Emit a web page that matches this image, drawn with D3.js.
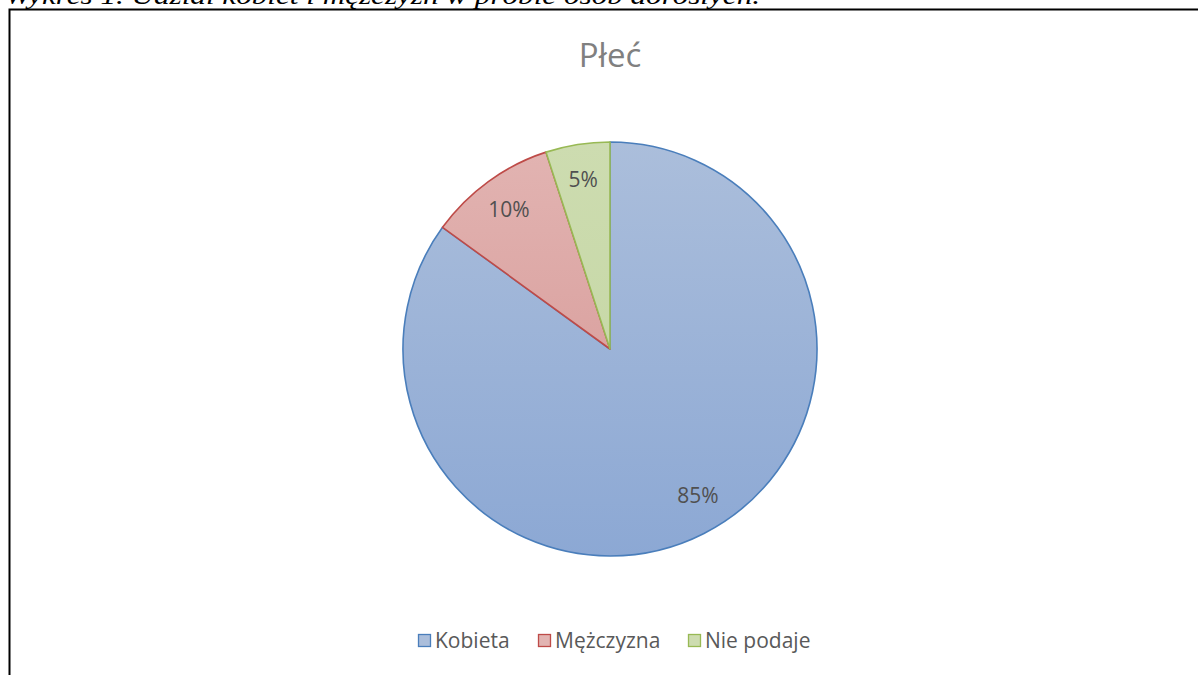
<!DOCTYPE html>
<html><head><meta charset="utf-8">
<script src="https://cdn.jsdelivr.net/npm/d3@7"></script>
<style>body{margin:0;background:#fff;}svg{display:block;}</style>
</head><body>
<svg id="c" width="1198" height="675"></svg>
<script>
const categories = ["Kobieta", "Mężczyzna", "Nie podaje"];
const values = [85, 10, 5];
const labels = ["85%", "10%", "5%"];
const strokeColors = ["#4a7ebb", "#be4b48", "#98b954"];
const topColors = ["#abbedb", "#e2b4b2", "#cddcb0"];
const bottomColors = ["#8ca8d4", "#d49391", "#c2d5a0"];

const svg = d3.select("#c");
const defs = svg.append("defs");
const cx = 610, cy = 349, r = 207;
categories.forEach((c, i) => {
  const g = defs.append("linearGradient").attr("id", "g" + i)
    .attr("gradientUnits", "userSpaceOnUse")
    .attr("x1", 0).attr("y1", -r).attr("x2", 0).attr("y2", r);
  g.append("stop").attr("offset", "0%").attr("stop-color", topColors[i]);
  g.append("stop").attr("offset", "100%").attr("stop-color", bottomColors[i]);
});

// caption (cut off at top, as in the source)
svg.append("text").attr("x", 5).attr("y", 4)
  .attr("font-family", "Liberation Serif, DejaVu Serif, serif").attr("font-style", "italic")
  .attr("font-size", 26).attr("fill", "#000")
  .attr("textLength", 755).attr("lengthAdjust", "spacingAndGlyphs")
  .text("Wykres 1. Udział kobiet i mężczyzn w próbie osób dorosłych.");

// frame
svg.append("path").attr("d", "M9.5,700 L9.5,9.5 L1210,9.5").attr("fill", "none")
  .attr("stroke", "#000").attr("stroke-width", 2);

svg.append("text").attr("x", 610).attr("y", 67).attr("text-anchor", "middle")
  .attr("font-family", "Open Sans, Liberation Sans").attr("font-size", 33).attr("fill", "#808080")
  .text("Płeć");

const pie = d3.pie().sort(null).value(d => d)(values);
const arc = d3.arc().innerRadius(0).outerRadius(r);
const labelArc = d3.arc().innerRadius(r * 0.83).outerRadius(r * 0.83);
const g = svg.append("g").attr("transform", `translate(${cx},${cy})`);
g.selectAll("path.s").data(pie).join("path").attr("class", "s")
  .attr("d", arc)
  .attr("fill", (d, i) => `url(#g${i})`)
  .attr("stroke", (d, i) => strokeColors[i]).attr("stroke-width", 1.6)
  .attr("stroke-linejoin", "round");

g.selectAll("text.l").data(pie).join("text").attr("class", "l")
  .attr("transform", d => {
    const [x, y] = labelArc.centroid(d);
    // Excel-style best-fit nudges the large slice's label toward the pie's vertical axis
    return d.index === 0 ? `translate(${x + 10},${y - 6})` : `translate(${x},${y})`;
  })
  .attr("text-anchor", "middle").attr("dy", "0.35em")
  .attr("font-family", "Open Sans, Liberation Sans").attr("font-size", 21).attr("fill", "#505050")
  .text((d, i) => labels[i]);

// legend
const legX = [418, 538, 688];
const lg = svg.append("g");
categories.forEach((c, i) => {
  lg.append("rect").attr("x", legX[i] + 0.5).attr("y", 634.5).attr("width", 12).attr("height", 12)
    .attr("fill", topColors[i]).attr("stroke", strokeColors[i]).attr("stroke-width", 1.3);
  lg.append("text").attr("x", legX[i] + 17).attr("y", 648)
    .attr("font-family", "Open Sans, Liberation Sans").attr("font-size", 21).attr("fill", "#595959")
    .text(c);
});
</script>
</body></html>
